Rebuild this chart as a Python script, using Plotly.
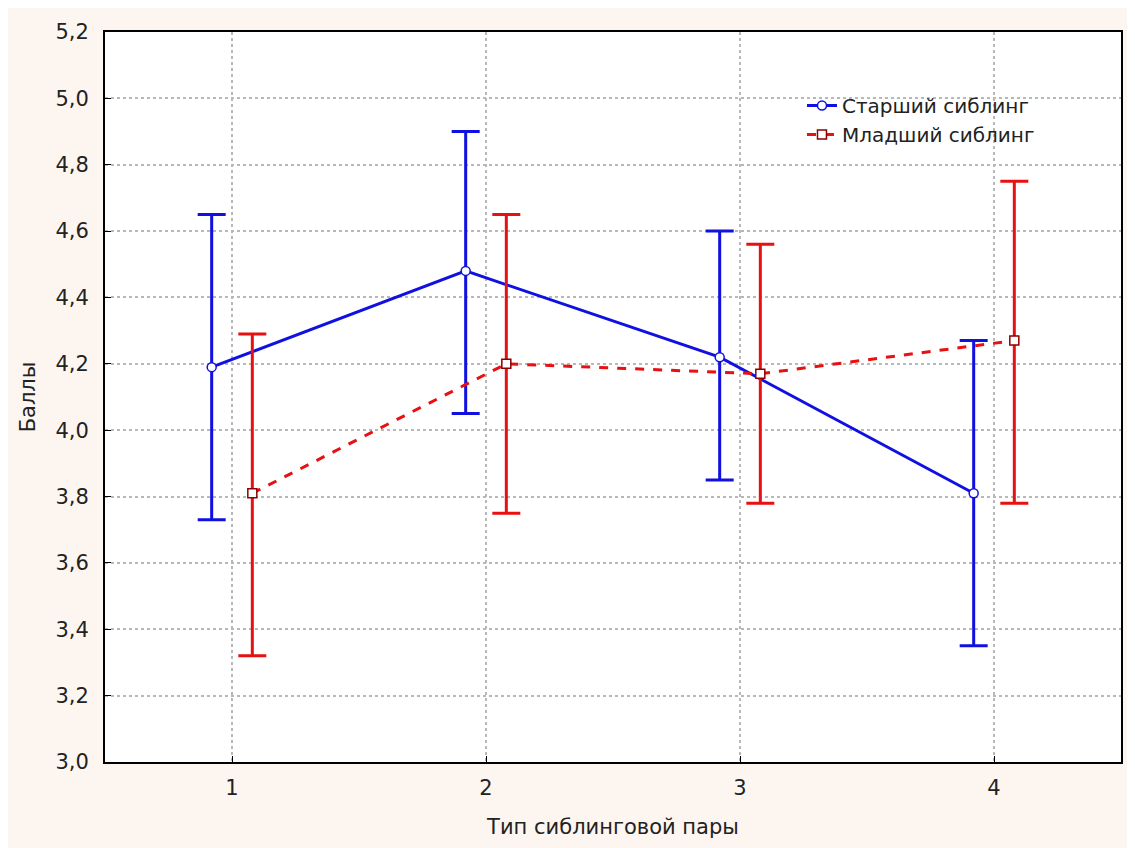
import plotly.graph_objects as go

categories = [1, 2, 3, 4]
tick_labels = ["1", "2", "3", "4"]

older_mean = [4.19, 4.48, 4.22, 3.81]
older_upper = [4.65, 4.90, 4.60, 4.27]
older_lower = [3.73, 4.05, 3.85, 3.35]

younger_mean = [3.81, 4.20, 4.17, 4.27]
younger_upper = [4.29, 4.65, 4.56, 4.75]
younger_lower = [3.32, 3.75, 3.78, 3.78]

OFFSET = 0.08
FONT = "DejaVu Sans, Liberation Sans, Arial, sans-serif"

def series(name, cats, mean, up, lo, color, dash, symbol, off, mline):
    return go.Scatter(
        x=[c + off for c in cats], y=mean, name=name,
        mode="lines+markers",
        line=dict(color=color, width=3, dash=dash),
        marker=dict(symbol=symbol, size=9, color="white",
                    line=dict(color=mline, width=1.5)),
        error_y=dict(type="data", symmetric=False,
                     array=[u - m for u, m in zip(up, mean)],
                     arrayminus=[m - l for m, l in zip(mean, lo)],
                     color=color, thickness=3, width=14),
    )

fig = go.Figure()
fig.add_trace(series("Старший сиблинг", categories, older_mean, older_upper, older_lower,
                     "#1010e0", "solid", "circle", -OFFSET, "#1010e0"))
fig.add_trace(series("Младший сиблинг", categories, younger_mean, younger_upper, younger_lower,
                     "#e81010", "dash", "square", OFFSET, "#8b0000"))

fig.update_layout(
    width=1127, height=840,
    margin=dict(l=97, r=13, t=20, b=86),
    paper_bgcolor="#fdf6f0",
    plot_bgcolor="white",
    separators=", ",
    font=dict(family=FONT, size=21, color="#222222"),
    showlegend=True,
    legend=dict(x=0.686, y=0.926, xanchor="left", yanchor="top",
                bgcolor="rgba(255,255,255,0)", font=dict(size=20, color="#222222"),
                tracegroupgap=0, itemwidth=30),
    xaxis=dict(range=[0.5, 4.5], tickvals=categories, ticktext=tick_labels,
               showgrid=True, gridcolor="#b8b8b8", griddash="dot", gridwidth=2,
               showline=True, linecolor="black", linewidth=2, mirror=True,
               ticks="inside", ticklen=6, tickcolor="black",
               ticklabelstandoff=6,
               title=dict(text="Тип сиблинговой пары", standoff=20,
                          font=dict(size=21)),
               zeroline=False),
    yaxis=dict(range=[3.0, 5.2], dtick=0.2, tick0=3.0, tickformat=".1f",
               showgrid=True, gridcolor="#b8b8b8", griddash="dot", gridwidth=2,
               showline=True, linecolor="black", linewidth=2, mirror=True,
               ticks="inside", ticklen=6, tickcolor="black",
               ticklabelstandoff=10,
               title=dict(text="Баллы", standoff=14, font=dict(size=21)),
               zeroline=False),
)

fig.write_html("out.html")
